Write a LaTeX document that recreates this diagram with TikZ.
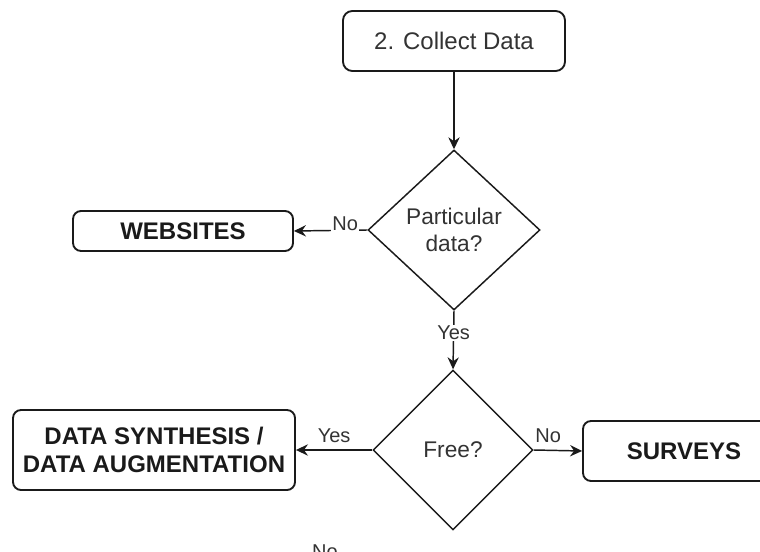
\documentclass[tikz,border=0pt]{standalone}
\usepackage{fontspec}
\setmainfont{Liberation Sans}
\usetikzlibrary{shapes.geometric,arrows.meta}
\definecolor{ink}{HTML}{1A1A1A}
\definecolor{txt}{HTML}{333333}
\tikzset{
  px/.style={x=0.75pt,y=-0.75pt},
  stepbox/.style={draw=ink,line width=1.4pt,rounded corners=6pt,fill=white,
    inner sep=0pt,align=center,text=ink,font=\bfseries\fontsize{18}{21}\selectfont},
  titlebox/.style={stepbox,rounded corners=7pt,font=\fontsize{18}{21}\selectfont,text=txt},
  decision/.style={diamond,draw=ink,line width=1.1pt,fill=white,inner sep=0pt,
    align=center,text=txt,font=\fontsize{17}{20}\selectfont},
  flow/.style={draw=ink,line width=1.1pt,-{Stealth[length=9pt,width=8.5pt,inset=3pt]}},
  edgelabel/.style={text=txt,font=\fontsize{15}{17}\selectfont,inner sep=1pt}
}
\begin{document}
\begin{tikzpicture}[px]
  \clip (0,0) rectangle (760,552);
  \fill[white] (0,0) rectangle (760,552);

  % boxes
  \node[titlebox,minimum width=222*0.75pt,minimum height=60*0.75pt] (collect) at (454,41) {2. Collect Data};
  \node[stepbox,minimum width=220*0.75pt,minimum height=40*0.75pt] (web) at (183,231) {WEBSITES};
  \node[stepbox,minimum width=282*0.75pt,minimum height=80*0.75pt] (synth) at (154,450)
    {DATA SYNTHESIS /\\DATA AUGMENTATION};
  \node[stepbox,minimum width=202*0.75pt,minimum height=60*0.75pt] (surveys) at (684,451) {SURVEYS};

  % decisions
  \node[decision,minimum width=172*0.75pt,minimum height=160*0.75pt] (part) at (454,230)
    {Particular\\data?};
  \node[decision,minimum width=160*0.75pt,minimum height=160*0.75pt] (free) at (453,450) {Free?};

  % connectors
  \draw[flow] (collect.south) -- (part.north);
  \draw[flow] (part.west) -- (web.east)
    node[edgelabel,fill=white,pos=0.3,yshift=5pt,inner ysep=5pt] {No};
  \draw[flow] (part.south) -- (free.north)
    node[edgelabel,fill=white,pos=0.38] {Yes};
  \draw[flow] (free.west) -- (synth.east)
    node[edgelabel,pos=0.5,above=4pt] {Yes};
  \draw[flow] (free.east) -- (surveys.west)
    node[edgelabel,pos=0.3,above=4pt] {No};

  % label of the lower branch
  \node[edgelabel,anchor=base] (nolow) at (325,558) {No};
\end{tikzpicture}
\end{document}
